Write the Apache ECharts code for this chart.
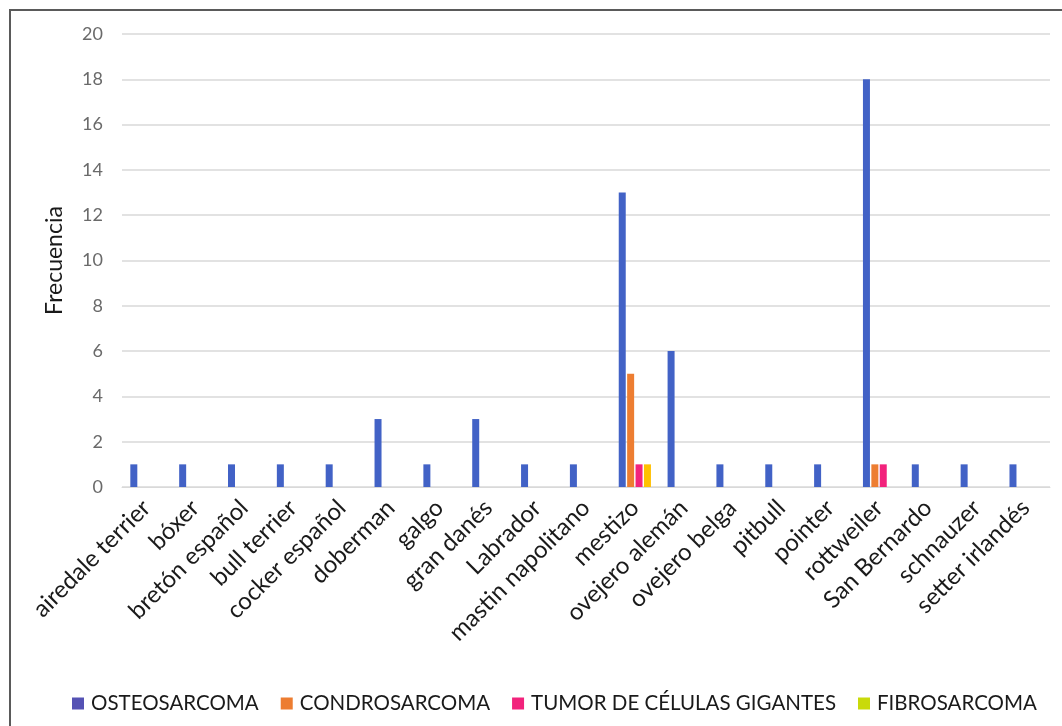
<!DOCTYPE html>
<html>
<head>
<meta charset="utf-8">
<script src="https://cdn.jsdelivr.net/npm/echarts@6/dist/echarts.min.js"></script>
<style>
  html, body { margin: 0; padding: 0; background: #fff; }
  #frame {
    position: absolute; left: 9px; top: 9px; width: 1070px; height: 730px;
    border: 2px solid #5a5a5a; box-sizing: border-box; background: #fff;
  }
  #chart { position: absolute; left: 0; top: 0; width: 1062px; height: 726px; }
</style>
</head>
<body>
<div id="frame"></div>
<div id="chart"></div>
<script>
// Breeds on the category axis
const breeds = [
  'airedale terrier', 'bóxer', 'bretón español', 'bull terrier', 'cocker español',
  'doberman', 'galgo', 'gran danés', 'Labrador', 'mastin napolitano', 'mestizo',
  'ovejero alemán', 'ovejero belga', 'pitbull', 'pointer', 'rottweiler',
  'San Bernardo', 'schnauzer', 'setter irlandés'
];

// Cases per tumour type and breed
const osteosarcoma  = [1, 1, 1, 1, 1, 3, 1, 3, 1, 1, 13, 6, 1, 1, 1, 18, 1, 1, 1];
const condrosarcoma = [0, 0, 0, 0, 0, 0, 0, 0, 0, 0, 5, 0, 0, 0, 0, 1, 0, 0, 0];
const tumorCelulas  = [0, 0, 0, 0, 0, 0, 0, 0, 0, 0, 1, 0, 0, 0, 0, 1, 0, 0, 0];
const fibrosarcoma  = [0, 0, 0, 0, 0, 0, 0, 0, 0, 0, 1, 0, 0, 0, 0, 0, 0, 0, 0];

const seriesNames = ['OSTEOSARCOMA', 'CONDROSARCOMA', 'TUMOR DE CÉLULAS GIGANTES', 'FIBROSARCOMA'];
const seriesData = [osteosarcoma, condrosarcoma, tumorCelulas, fibrosarcoma];
const barColors = ['#4262c6', '#ed7d31', '#f2237c', '#ffc000'];
const legendColors = ['#5552b4', '#ed7d31', '#f2237c', '#c9da0a'];

const font = 'Lato, "Open Sans", sans-serif';

const chart = echarts.init(document.getElementById('chart'), null, { renderer: 'canvas' });

chart.setOption({
  animation: false,
  backgroundColor: 'transparent',
  grid: { left: 122, right: 12, top: 34, bottom: 239, containLabel: false },
  xAxis: {
    type: 'category',
    data: breeds,
    axisLine: { show: true, lineStyle: { color: '#d9d9d9', width: 1 } },
    axisTick: { show: false },
    axisLabel: {
      interval: 0, rotate: 45, margin: 17,
      color: '#1a1a1a', fontSize: 24, fontFamily: font
    }
  },
  yAxis: {
    type: 'value',
    min: 0, max: 20, interval: 2,
    name: 'Frecuencia',
    nameLocation: 'middle',
    nameGap: 56,
    nameRotate: 90,
    nameTextStyle: { color: '#1a1a1a', fontSize: 23, fontFamily: font },
    axisLine: { show: false },
    axisTick: { show: false },
    axisLabel: { color: '#6a6a6a', fontSize: 18, fontFamily: font, margin: 19 },
    splitLine: { lineStyle: { color: '#d9d9d9', width: 1.5 } }
  },
  legend: {
    bottom: 7,
    left: 67,
    itemWidth: 12, itemHeight: 12, itemGap: 22,
    icon: 'rect',
    textStyle: { color: '#1a1a1a', fontSize: 20.5, fontFamily: font, padding: [0, 0, 0, 2] },
    data: seriesNames.map((n, i) => ({ name: n, itemStyle: { color: legendColors[i] } }))
  },
  series: seriesNames.map((n, i) => ({
    name: n,
    type: 'bar',
    data: seriesData[i],
    barWidth: 7,
    barGap: '20%',
    itemStyle: { color: barColors[i] }
  }))
});
</script>
</body>
</html>
